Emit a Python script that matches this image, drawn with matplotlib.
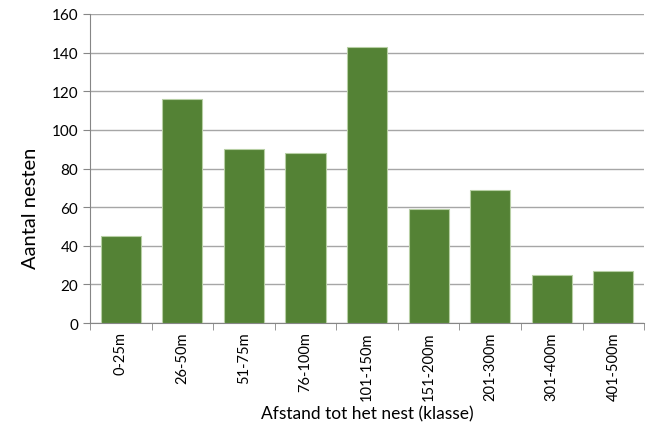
import matplotlib.pyplot as plt
import numpy as np

plt.rcParams['font.family'] = ['Lato', 'DejaVu Sans']

# afstandsklassen en aantal nesten per klasse
klassen = ['0-25m', '26-50m', '51-75m', '76-100m', '101-150m',
           '151-200m', '201-300m', '301-400m', '401-500m']
aantal = [45, 116, 90, 88, 143, 59, 69, 25, 27]

fig = plt.figure(figsize=(6.52, 4.27), dpi=100)
ax = fig.add_axes([0.138, 0.241, 0.850, 0.724])

x = np.arange(len(klassen))
ax.bar(x, aantal, width=0.65, color='#548235', edgecolor='#b7cfa4',
       linewidth=0.8, zorder=3)

ax.set_xlim(-0.5, len(klassen) - 0.5)
ax.set_ylim(0, 160)
ax.set_yticks(range(0, 161, 20))

# labels in het midden, streepjes op de klassegrenzen
ax.set_xticks(x)
ax.set_xticklabels(klassen, rotation=90, fontsize=10.5)
ax.set_xticks(np.arange(-0.5, len(klassen)), minor=True)
ax.tick_params(axis='x', which='major', length=0, pad=6)
ax.tick_params(axis='x', which='minor', length=5, color='#868686', direction='out')
ax.tick_params(axis='y', length=5, color='#868686', labelsize=11)

ax.yaxis.grid(True, color='#a6a6a6', linewidth=1, zorder=0)
ax.set_axisbelow(True)

for side in ['top', 'right']:
    ax.spines[side].set_visible(False)
for side in ['left', 'bottom']:
    ax.spines[side].set_color('#868686')

ax.set_ylabel('Aantal nesten', fontsize=14.5)
ax.yaxis.set_label_coords(-0.092, 0.375)
ax.set_xlabel('Afstand tot het nest (klasse)', fontsize=12.5)
ax.xaxis.set_label_coords(0.5, -0.265)

fig.savefig('out.png', dpi=100)
